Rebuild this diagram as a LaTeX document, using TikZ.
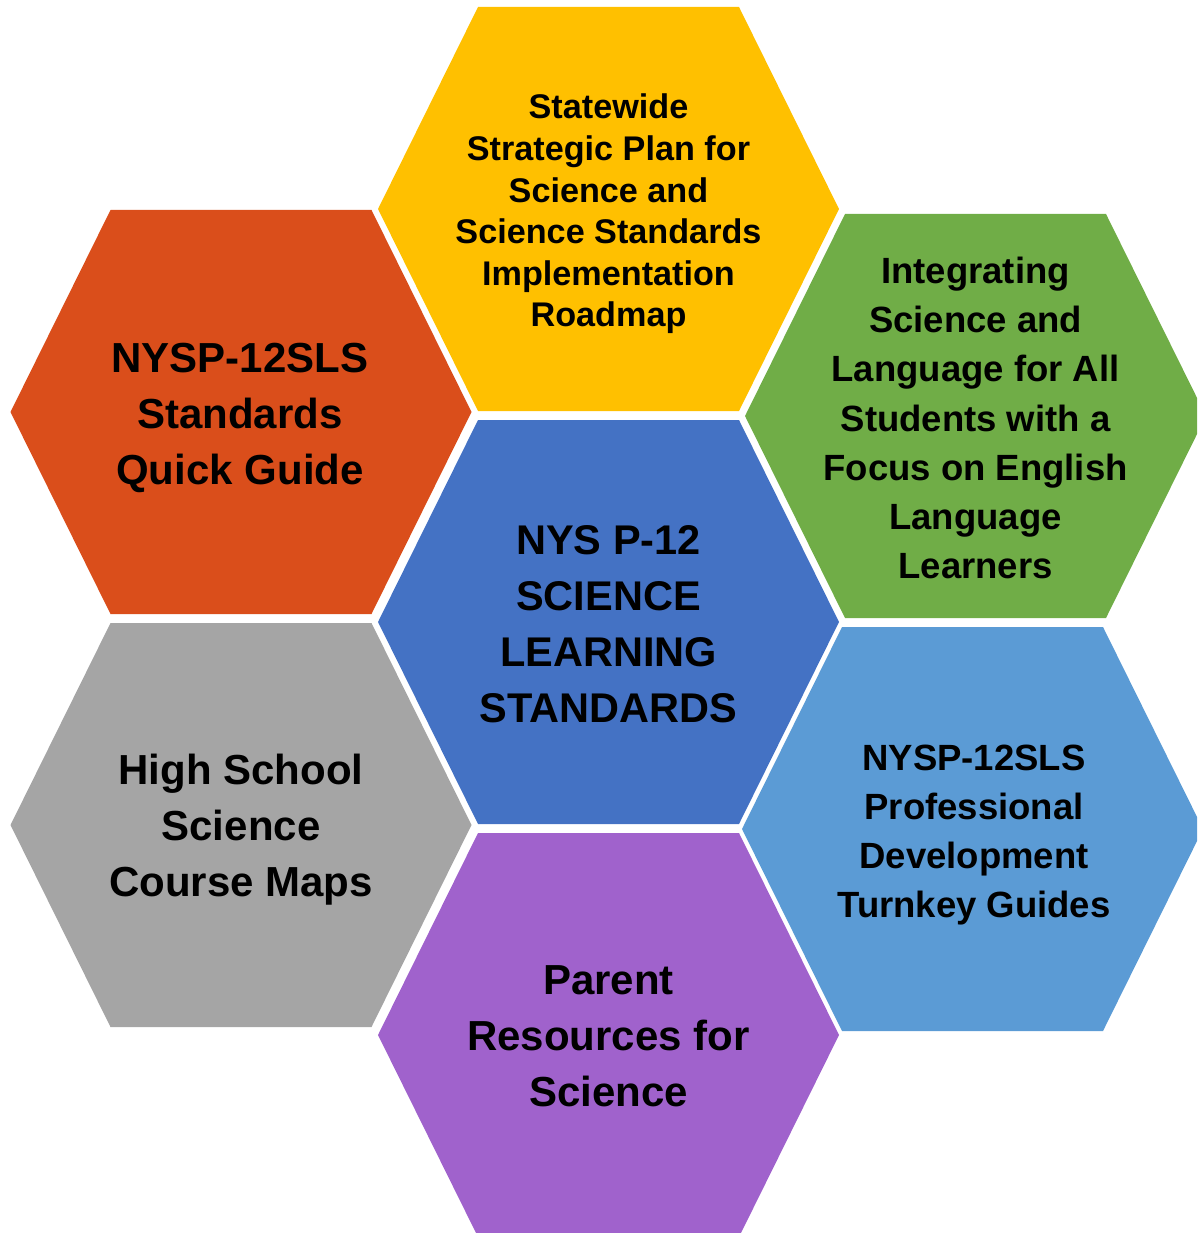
\documentclass[tikz,border=0pt]{standalone}
\usepackage{fontspec}
\setmainfont{Liberation Sans}
\definecolor{hexorange}{RGB}{218,78,27}
\definecolor{hexyellow}{RGB}{255,192,0}
\definecolor{hexblue}{RGB}{68,114,196}
\definecolor{hexgreen}{RGB}{112,173,71}
\definecolor{hexsky}{RGB}{91,155,213}
\definecolor{hexgray}{RGB}{165,165,165}
\definecolor{hexpurple}{RGB}{160,98,204}
\tikzset{
  hexcell/.pic={\fill (-230.5,0) -- (-130.5,-202) -- (130.5,-202) -- (230.5,0) -- (130.5,202) -- (-130.5,202) -- cycle;},
  hexlabel/.style={align=center,text=black,font=\bfseries},
  bigtext/.style={hexlabel,font=\fontsize{42}{56}\selectfont\bfseries},
  smalltext/.style={hexlabel,font=\fontsize{36.5}{49.3}\selectfont\bfseries}
}
\begin{document}
\begin{tikzpicture}[x=1pt,y=-1pt]
\useasboundingbox (0,0) rectangle (1197,1233);
\clip (0,0) rectangle (1197,1233);
\pic[fill=hexyellow] at (608.5,209) {hexcell};
\pic[fill=hexorange] at (241,412) {hexcell};
\pic[fill=hexgreen] at (975.5,416) {hexcell};
\pic[fill=hexblue] at (608.5,622) {hexcell};
\pic[fill=hexgray] at (241,825) {hexcell};
\pic[fill=hexsky] at (972.5,829) {hexcell};
\pic[fill=hexpurple] at (608.5,1035) {hexcell};
\node[hexlabel,font=\fontsize{34.2}{41.6}\selectfont\bfseries] (roadmap) at (608.5,214) {Statewide\\Strategic Plan for\\Science and\\Science Standards\\Implementation\\Roadmap};
\node[bigtext] (quickguide) at (240,418) {NYSP-12SLS\\Standards\\Quick Guide};
\node[smalltext] (language) at (975.5,418) {Integrating\\Science and\\Language for All\\Students with a\\Focus on English\\Language\\Learners};
\node[bigtext,font=\fontsize{41.5}{56}\selectfont\bfseries] (standards) at (608.5,624) {NYS P-12\\SCIENCE\\LEARNING\\STANDARDS};
\node[bigtext] (coursemaps) at (241,830) {High School\\Science\\Course Maps};
\node[smalltext] (turnkey) at (974,835) {NYSP-12SLS\\Professional\\Development\\Turnkey Guides};
\node[bigtext] (parents) at (608.5,1036) {Parent\\Resources for\\Science};
\end{tikzpicture}
\end{document}
